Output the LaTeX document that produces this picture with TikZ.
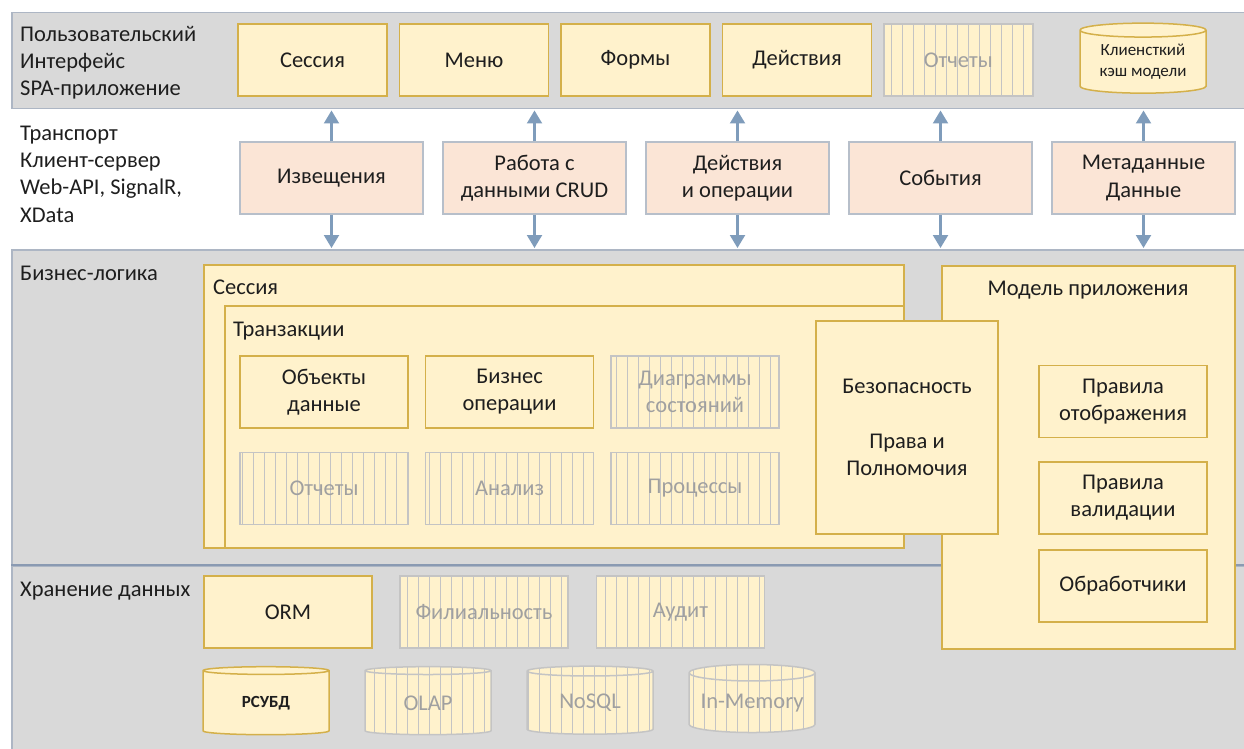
\documentclass[tikz,border=0pt]{standalone}
\usepackage{fontspec}
\setmainfont{Carlito}
\usepackage{xcolor}
\usepackage{tikz}
\usetikzlibrary{positioning}
\usetikzlibrary{shapes.geometric}
\usetikzlibrary{patterns.meta}
\usetikzlibrary{arrows.meta}

\definecolor{bandgray}{HTML}{D9D9D9}
\definecolor{bandline}{HTML}{ADB6C4}
\definecolor{sepline}{HTML}{8A9AB2}
\definecolor{ylight}{HTML}{FFF2CC}
\definecolor{ygold}{HTML}{D4B04A}
\definecolor{peach}{HTML}{FBE5D6}
\definecolor{tline}{HTML}{B7BFCA}
\definecolor{hline}{HTML}{C4C4C4}
\definecolor{htext}{HTML}{A0A0A0}
\definecolor{txt}{HTML}{1E1E1E}
\definecolor{arrowblue}{HTML}{7F9CBB}

\begin{document}
\begin{tikzpicture}[x=1pt, y=-1pt]

    % Custom styles
    \tikzstyle{band} = [draw=bandline, fill=bandgray, line width=1.5pt, inner sep=0pt]
    \tikzstyle{lbl} = [inner sep=0pt, align=left, text=txt, font=\fontsize{22.5}{27.2}\selectfont]
    \tikzstyle{box} = [line width=1.5pt, inner sep=0pt, align=center, text=txt, font=\fontsize{22.5}{27.2}\selectfont, minimum width=168pt, minimum height=72pt]
    \tikzstyle{ybox} = [box, draw=ygold, fill=ylight]
    \tikzstyle{tbox} = [box, draw=tline, fill=peach, minimum width=183pt]
    \tikzstyle{hbox} = [box, draw=hline, text=htext, preaction={fill=ylight}, pattern={Lines[angle=90, distance=11pt, line width=1pt]}, pattern color=hline]
    \tikzstyle{frame} = [draw=ygold, fill=ylight, line width=1.5pt, inner sep=0pt]
    \tikzstyle{db} = [cylinder, shape border rotate=90, aspect=0.16, line width=1.5pt, inner sep=0pt, align=center, minimum width=126pt, minimum height=68pt, draw=ygold, fill=ylight, text=txt, font=\fontsize{22.5}{27.2}\selectfont]
    \tikzstyle{hdb} = [db, fill=none, draw=hline, text=htext, preaction={fill=ylight}, pattern={Lines[angle=90, distance=11pt, line width=1pt]}, pattern color=hline]
    \tikzstyle{arr} = [draw=arrowblue, line width=2.2pt, shorten >=1pt, -{Triangle[length=13pt, width=15pt]}]

    \useasboundingbox (0,0) rectangle (1244,749);
    \clip (0,0) rectangle (1244,749);

    % Layer bands
    \node[band, anchor=north west, minimum width=1250pt, minimum height=96pt] (ui) at (11,12) {};
    \node[band, anchor=north west, minimum width=1250pt, minimum height=316pt] (biz) at (11,249) {};
    \node[band, anchor=north west, minimum width=1250pt, minimum height=200pt] (stor) at (11,565) {};
    \draw[sepline, line width=2.5pt] (stor.north west) -- (stor.north east);

    % Layer labels (anchored at the last line)
    \node[lbl, anchor=base west] (uilbl) at (20,96) {Пользовательский\\Интерфейс\\SPA-приложение};
    \node[lbl, anchor=base west] (trlbl) at (20,222) {Транспорт\\Клиент-сервер\\Web-API, SignalR,\\XData};
    \node[lbl, anchor=base west] (bizlbl) at (20,280) {Бизнес-логика};
    \node[lbl, anchor=base west] (storlbl) at (20,596) {Хранение данных};

    % UI row
    \node[ybox, minimum width=149pt] (sess) at (312.5,60) {Сессия};
    \node[ybox, minimum width=149pt, right=11pt of sess] (menu) {Меню};
    \node[ybox, minimum width=149pt, right=11pt of menu] (forms) {Формы};
    \node[ybox, minimum width=149pt, right=11pt of forms] (acts) {Действия};
    \node[hbox, minimum width=149pt, right=11pt of acts] (rep) {Отчеты};
    \node[db, minimum height=70pt, font=\fontsize{17}{21}\selectfont, right=46pt of rep, yshift=-2pt] (cache) {Клиенсткий\\кэш модели};

    % Transport row
    \node[tbox] (notif) at (331.5,178) {Извещения};
    \node[tbox, right=18.5pt of notif] (crud) {Работа с\\данными CRUD};
    \node[tbox, right=18.5pt of crud] (ops) {Действия\\и операции};
    \node[tbox, right=18.5pt of ops] (evts) {События};
    \node[tbox, right=18.5pt of evts] (meta) {Метаданные\\Данные};

    % Business logic
    \node[frame, anchor=north west, minimum width=700pt, minimum height=283pt] (sessbox) at (203,264) {};
    \node[lbl, anchor=base west] (sesslbl) at (213,294) {Сессия};
    \node[frame, anchor=north west, minimum width=679pt, minimum height=242pt] (trans) at (224,305) {};
    \node[lbl, anchor=base west] (translbl) at (233,336) {Транзакции};
    \node[frame, anchor=north west, minimum width=293pt, minimum height=383pt] (model) at (941,265) {};
    \node[lbl, anchor=base] (modellbl) at (1088,295) {Модель приложения};
    \node[ybox, minimum width=182pt, minimum height=213pt] (sec) at (907,427.5) {Безопасность\\[27pt]Права и\\Полномочия};

    \node[ybox] (obj) at (324,392) {Объекты\\данные};
    \node[ybox, right=16pt of obj] (bop) {Бизнес\\операции};
    \node[hbox, right=16pt of bop] (diag) {Диаграммы\\состояний};
    \node[hbox, below=23pt of obj] (rep2) {Отчеты};
    \node[hbox, below=23pt of bop] (anl) {Анализ};
    \node[hbox, below=23pt of diag] (proc) {Процессы};

    \node[ybox] (disp) at (1123,401.5) {Правила\\отображения};
    \node[ybox, below=23pt of disp] (valid) {Правила\\валидации};
    \node[ybox, below=14.5pt of valid] (hand) {Обработчики};

    % Storage
    \node[ybox] (orm) at (288,612) {ORM};
    \node[hbox, right=26.5pt of orm] (fil) {Филиальность};
    \node[hbox, right=27pt of fil] (aud) {Аудит};
    \node[db, font=\fontsize{17}{21}\selectfont\bfseries] (rdb) at (266,703) {РСУБД};
    \node[hdb, right=34.5pt of rdb] (olap) {OLAP};
    \node[hdb, right=34.5pt of olap] (nosql) {NoSQL};
    \node[hdb, right=34.5pt of nosql] (inmem) {In-Memory};

    % Connect nodes
    \foreach \t in {notif, crud, ops, evts, meta} {
        \draw[arr] (\t.north) -- (\t.north |- ui.south);
        \draw[arr] (\t.south) -- (\t.south |- biz.north);
    }

\end{tikzpicture}
\end{document}
